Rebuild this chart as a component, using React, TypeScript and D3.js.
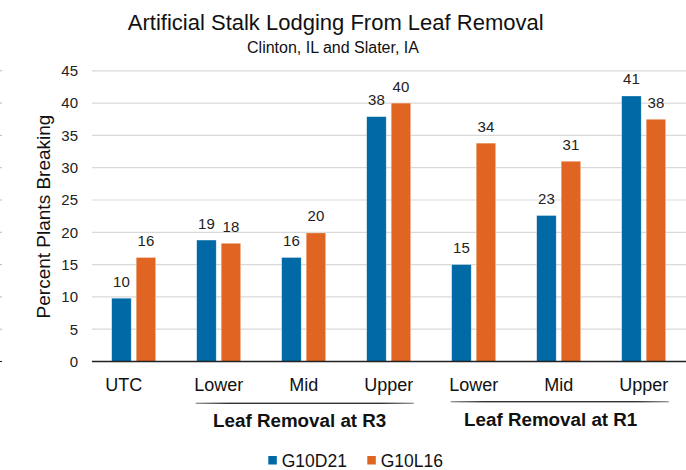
import React from "react";
import * as d3 from "d3";

const categories = ["UTC", "Lower", "Mid", "Upper", "Lower", "Mid", "Upper"];
const seriesNames = ["G10D21", "G10L16"];
const g10d21 = [9.8, 18.8, 16.1, 37.9, 15.0, 22.6, 41.1];
const g10l16 = [16.1, 18.3, 19.9, 40.0, 33.8, 31.0, 37.5];
const yTicks = [0, 5, 10, 15, 20, 25, 30, 35, 40, 45];
const groupLabels = ["Leaf Removal at R3", "Leaf Removal at R1"];
const groupFrom = [1, 4];
const groupTo = [3, 6];

const W = 686;
const H = 470;
const FONT = "'Liberation Sans', Arial, sans-serif";
const BLUE = "#016AA6";
const ORANGE = "#E06522";

export default function App() {
  const x = d3
    .scaleBand<number>()
    .domain(categories.map((_, i) => i))
    .range([91.2, 686.2])
    .paddingInner(0)
    .paddingOuter(0);
  const inner = d3
    .scaleBand<string>()
    .domain(seriesNames)
    .range([-22, 22])
    .paddingInner(0.204)
    .paddingOuter(0);
  const y = d3.scaleLinear().domain([0, 45]).range([361.5, 70.8]);
  const seriesData = [g10d21, g10l16];
  const colors = [BLUE, ORANGE];
  const center = (i: number) => (x(i) as number) + x.bandwidth() / 2;

  const groupDx = [-5, -9];

  return (
    <svg
      width={W}
      height={H}
      style={{ position: "absolute", left: 0, top: 0, background: "#fff" }}
      fontFamily={FONT}
    >
      <defs>
        <linearGradient id="brk" x1="0" x2="1" y1="0" y2="0">
          <stop offset="0" stopColor="#999" />
          <stop offset="0.15" stopColor="#333" />
          <stop offset="0.85" stopColor="#333" />
          <stop offset="1" stopColor="#999" />
        </linearGradient>
      </defs>
      <rect x={0} y={0} width={W} height={H} fill="#fff" />

      {/* title */}
      <text x={335.7} y={30} textAnchor="middle" fontSize={22} fill="#111">
        Artificial Stalk Lodging From Leaf Removal
      </text>
      <text x={333} y={53} textAnchor="middle" fontSize={16} fill="#111">
        Clinton, IL and Slater, IA
      </text>

      {/* edge marks */}
      {yTicks.map((t) => (
        <line
          key={"e" + t}
          x1={0}
          x2={2}
          y1={y(t)}
          y2={y(t)}
          stroke={t === 0 ? "#222" : "#bbb"}
          strokeWidth={1}
        />
      ))}

      {/* grid */}
      {yTicks
        .filter((t) => t > 0)
        .map((t) => (
          <line
            key={"g" + t}
            x1={92}
            x2={686}
            y1={y(t)}
            y2={y(t)}
            stroke="#d9d9d9"
            strokeWidth={1.2}
          />
        ))}
      {yTicks.map((t) => (
        <text
          key={"t" + t}
          x={78}
          y={y(t) + 5.3}
          textAnchor="end"
          fontSize={15}
          fill="#222"
        >
          {t}
        </text>
      ))}

      {/* y title */}
      <text
        transform={`translate(50,${216.5}) rotate(-90)`}
        textAnchor="middle"
        fontSize={19}
        fill="#111"
      >
        Percent Plants Breaking
      </text>

      {/* bars */}
      {seriesData.map((vals, s) =>
        vals.map((v, i) => {
          const bx = center(i) + (inner(seriesNames[s]) as number);
          return (
            <rect
              key={`b${s}-${i}`}
              x={bx}
              y={y(v)}
              width={inner.bandwidth()}
              height={y(0) - y(v)}
              fill={colors[s]}
              stroke="#ffffff"
              strokeOpacity={0.5}
              strokeWidth={0.6}
            />
          );
        })
      )}

      {/* data labels */}
      {seriesData.map((vals, s) =>
        vals.map((v, i) => {
          const bx =
            center(i) + (inner(seriesNames[s]) as number) + inner.bandwidth() / 2;
          return (
            <text
              key={`l${s}-${i}`}
              x={bx}
              y={y(v) - 11.5}
              textAnchor="middle"
              fontSize={15}
              fill="#222"
            >
              {Math.round(v)}
            </text>
          );
        })
      )}

      {/* axis line */}
      <line x1={92} x2={686} y1={y(0)} y2={y(0)} stroke="#222" strokeWidth={1.3} />

      {/* category labels */}
      {categories.map((c, i) => (
        <text
          key={"c" + i}
          x={center(i) + (i === 0 ? -10 : 0)}
          y={391}
          textAnchor="middle"
          fontSize={18}
          fill="#111"
        >
          {c}
        </text>
      ))}

      {/* group brackets */}
      {groupLabels.map((g, k) => {
        const x0 = (x(groupFrom[k]) as number) + 19.5;
        const x1 = (x(groupTo[k]) as number) + x.bandwidth() - 17.5;
        const yy = k === 0 ? 403.3 : 401.7;
        return (
          <g key={"grp" + k}>
            <rect x={x0} y={yy - 0.7} width={x1 - x0} height={1.4} fill="url(#brk)" />
            <text
              x={(x0 + x1) / 2 + groupDx[k]}
              y={k === 0 ? 427.3 : 426.3}
              textAnchor="middle"
              fontSize={18.8}
              fontWeight="bold"
              fill="#111"
            >
              {g}
            </text>
          </g>
        );
      })}

      {/* legend */}
      {seriesNames.map((n, s) => {
        const lx = s === 0 ? 268.3 : 367.3;
        return (
          <g key={"lg" + n}>
            <rect x={lx} y={456} width={8.5} height={8.5} fill={colors[s]} />
            <text x={lx + 13.4} y={466.7} fontSize={17.5} fill="#111">
              {n}
            </text>
          </g>
        );
      })}
    </svg>
  );
}
